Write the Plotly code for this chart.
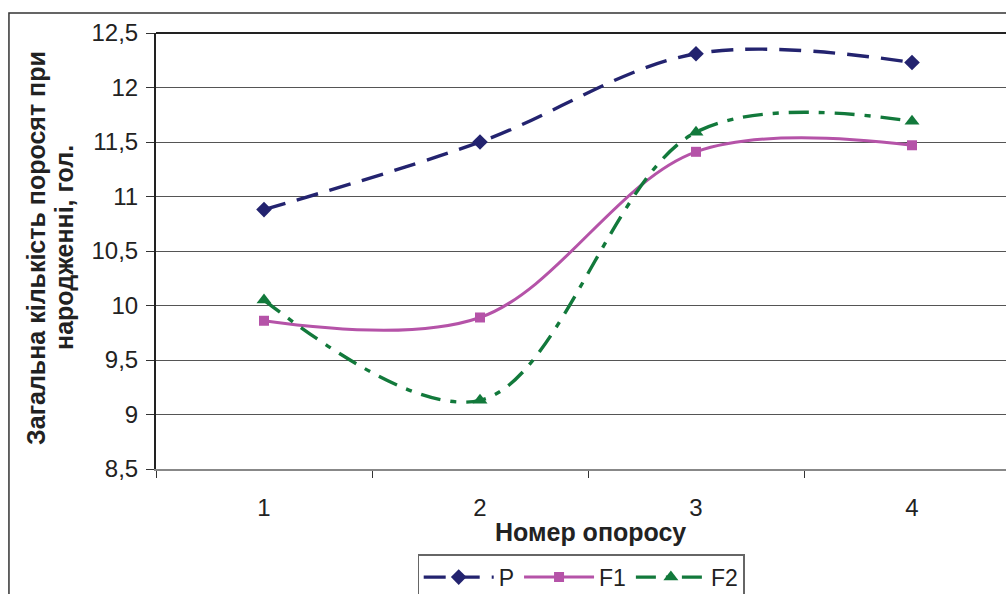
import plotly.graph_objects as go

categories = ["1", "2", "3", "4"]
p_vals = [10.88, 11.50, 12.31, 12.23]
f1_vals = [9.86, 9.89, 11.41, 11.47]
f2_vals = [10.05, 9.13, 11.59, 11.69]
y_ticks = [8.5, 9, 9.5, 10, 10.5, 11, 11.5, 12, 12.5]
y_tick_text = ["8,5", "9", "9,5", "10", "10,5", "11", "11,5", "12", "12,5"]

FONT = "Liberation Sans, Arial, sans-serif"

fig = go.Figure()
fig.add_trace(go.Scatter(x=categories, y=p_vals, name="P", mode="lines+markers",
                         line=dict(color="#23236F", width=3.4, dash="22px,12px", shape="spline", smoothing=1.0),
                         marker=dict(symbol="diamond", size=12, color="#23236F")))
fig.add_trace(go.Scatter(x=categories, y=f1_vals, name="F1", mode="lines+markers",
                         line=dict(color="#B553A8", width=3, shape="spline", smoothing=1.0),
                         marker=dict(symbol="square", size=10, color="#B553A8")))
fig.add_trace(go.Scatter(x=categories, y=f2_vals, name="F2", mode="lines+markers",
                         line=dict(color="#12793B", width=3.4, dash="20px,10px,6px,10px", shape="spline", smoothing=1.0),
                         marker=dict(symbol="triangle-up", size=13, color="#12793B")))

fig.update_layout(
    width=1006, height=594,
    margin=dict(l=156, r=0, t=33, b=124.5, autoexpand=False),
    paper_bgcolor="white", plot_bgcolor="white",
    font=dict(family=FONT, size=24, color="#222222"),
    showlegend=True,
    legend=dict(orientation="h", x=0.50, y=-0.196, xanchor="center", yanchor="top",
                bordercolor="#666666", borderwidth=1.2, font=dict(size=23, color="#222222"),
                itemwidth=70, tracegroupgap=0),
)
fig.update_xaxes(type="category", range=[-0.5, -0.5 + 850 / 216], tickson="boundaries",
                 ticks="outside", ticklen=7, tickcolor="#333333", showgrid=False,
                 showline=True, linecolor="#888888", linewidth=2, ticklabelstandoff=16,
                 tickfont=dict(size=24), zeroline=False)
fig.update_yaxes(range=[8.5, 12.5], tickvals=y_ticks, ticktext=y_tick_text,
                 ticks="outside", ticklen=8, tickcolor="#333333",
                 showgrid=True, gridcolor="#555555", gridwidth=1,
                 showline=True, linecolor="#222222", linewidth=2, ticklabelstandoff=3,
                 tickfont=dict(size=24), zeroline=False)

# outer chart border
fig.add_shape(type="rect", xref="paper", yref="paper", x0=-0.173, x1=1.05, y0=-0.4, y1=1.046,
              line=dict(color="#333333", width=1.5), fillcolor="rgba(0,0,0,0)", layer="below")
# top frame line of the plot area
fig.add_shape(type="line", xref="paper", yref="paper", x0=0, x1=1, y0=1, y1=1,
              line=dict(color="#222222", width=2))

fig.add_annotation(text="<b>Номер опоросу</b>", xref="paper", yref="paper", x=0.5106, y=-0.1454,
                   showarrow=False, font=dict(size=25, color="#222222"), xanchor="center", yanchor="middle")
fig.add_annotation(text="<b>Загальна кількість поросят при</b>", xref="paper", yref="paper",
                   x=(36 - 156) / 850, y=(469.5 - 248) / 436.8, textangle=-90, showarrow=False,
                   font=dict(size=25, color="#222222"), xanchor="center", yanchor="middle")
fig.add_annotation(text="<b>народженні, гол.</b>", xref="paper", yref="paper",
                   x=(64 - 156) / 850, y=(469.5 - 248) / 436.8, textangle=-90, showarrow=False,
                   font=dict(size=25, color="#222222"), xanchor="center", yanchor="middle")

fig.write_html("out.html")
